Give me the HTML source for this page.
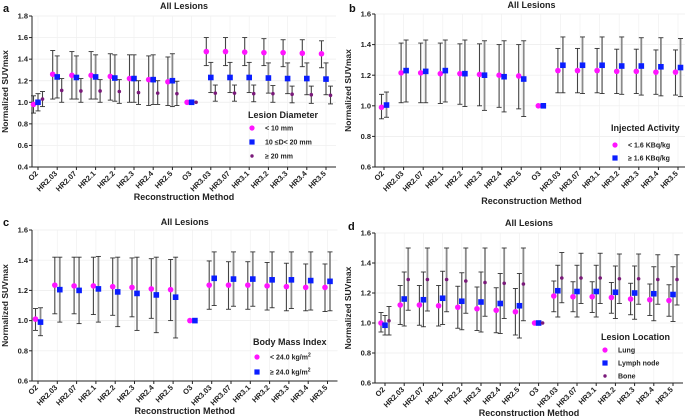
<!DOCTYPE html>
<html><head><meta charset="utf-8"><style>
html,body{margin:0;padding:0;background:#fff}
svg{display:block;font-family:"Liberation Sans",Arial,sans-serif}
</style></head><body>
<svg id="c" width="685" height="419" viewBox="0 0 685 419" xmlns="http://www.w3.org/2000/svg"></svg>
<script>
const categories=["O2","HR2.03","HR2.07","HR2.1","HR2.2","HR2.3","HR2.4","HR2.5","O3","HR3.03","HR3.07","HR3.1","HR3.2","HR3.3","HR3.4","HR3.5"];
// Panel a
const aPinkMean=[0.98,1.26,1.25,1.25,1.24,1.22,1.21,1.19,1.00,1.47,1.47,1.465,1.46,1.46,1.455,1.45];
const aPinkHigh=[1.06,1.48,1.47,1.47,1.45,1.44,1.43,1.42,1.00,1.60,1.60,1.60,1.59,1.58,1.58,1.57];
const aPinkLow=[0.90,1.03,1.03,1.03,1.02,1.00,0.97,0.97,1.00,1.34,1.34,1.34,1.34,1.33,1.33,1.32];
const aBlueMean=[1.00,1.235,1.23,1.235,1.225,1.22,1.21,1.20,1.00,1.23,1.23,1.23,1.225,1.22,1.22,1.215];
const aBlueHigh=[1.08,1.43,1.43,1.44,1.44,1.44,1.44,1.45,1.00,1.37,1.37,1.37,1.365,1.365,1.365,1.365];
const aBlueLow=[0.92,1.04,1.03,1.03,1.01,1.00,0.98,0.96,1.00,1.09,1.09,1.09,1.085,1.08,1.07,1.07];
const aPurpMean=[1.03,1.11,1.105,1.105,1.10,1.09,1.085,1.08,1.00,1.085,1.085,1.08,1.08,1.075,1.07,1.065];
const aPurpHigh=[1.10,1.22,1.22,1.21,1.21,1.20,1.20,1.195,1.00,1.16,1.16,1.16,1.155,1.15,1.15,1.15];
const aPurpLow=[0.96,1.00,1.00,1.00,0.99,0.98,0.98,0.97,1.00,1.01,1.01,1.005,1.00,0.995,0.99,0.985];
const aTicks=[0.4,0.6,0.8,1.0,1.2,1.4,1.6,1.8];
// Panel b
const bPinkMean=[0.99,1.215,1.215,1.21,1.21,1.205,1.20,1.195,1.00,1.23,1.23,1.23,1.225,1.225,1.22,1.22];
const bPinkHigh=[1.075,1.41,1.41,1.41,1.405,1.405,1.40,1.40,1.00,1.375,1.375,1.375,1.37,1.37,1.365,1.365];
const bPinkLow=[0.915,1.02,1.02,1.015,1.01,1.00,0.99,0.98,1.00,1.085,1.085,1.085,1.08,1.08,1.075,1.07];
const bBlueMean=[1.005,1.23,1.225,1.23,1.21,1.20,1.19,1.175,1.00,1.265,1.265,1.265,1.26,1.26,1.255,1.25];
const bBlueHigh=[1.09,1.43,1.43,1.43,1.43,1.425,1.425,1.425,1.00,1.45,1.45,1.45,1.45,1.445,1.445,1.44];
const bBlueLow=[0.925,1.025,1.02,1.025,0.995,0.97,0.96,0.93,1.00,1.085,1.08,1.08,1.075,1.07,1.065,1.06];
const bTicks=[0.6,0.8,1.0,1.2,1.4,1.6];
// Panel c
const cPinkMean=[1.01,1.235,1.23,1.23,1.225,1.22,1.21,1.205,1.00,1.235,1.235,1.235,1.23,1.225,1.22,1.22];
const cPinkHigh=[1.08,1.42,1.42,1.42,1.415,1.415,1.41,1.405,1.00,1.395,1.39,1.39,1.385,1.38,1.375,1.375];
const cPinkLow=[0.935,1.045,1.045,1.04,1.035,1.025,1.015,1.00,1.00,1.075,1.075,1.075,1.07,1.065,1.065,1.06];
const cBlueMean=[0.99,1.205,1.20,1.21,1.19,1.18,1.17,1.155,1.00,1.28,1.275,1.275,1.27,1.27,1.265,1.26];
const cBlueHigh=[1.085,1.42,1.42,1.425,1.42,1.42,1.42,1.42,1.00,1.455,1.455,1.455,1.455,1.455,1.455,1.455];
const cBlueLow=[0.90,0.99,0.98,0.99,0.96,0.935,0.92,0.885,1.00,1.10,1.095,1.095,1.085,1.08,1.07,1.065];
const cTicks=[0.6,0.8,1.0,1.2,1.4,1.6];
// Panel d
const dPinkMean=[1.00,1.12,1.12,1.115,1.105,1.095,1.085,1.075,1.00,1.18,1.175,1.175,1.17,1.16,1.155,1.15];
const dPinkHigh=[1.07,1.25,1.25,1.25,1.245,1.24,1.235,1.23,1.00,1.28,1.275,1.275,1.27,1.265,1.26,1.255];
const dPinkLow=[0.94,0.99,0.985,0.98,0.965,0.95,0.935,0.92,1.00,1.075,1.075,1.07,1.065,1.055,1.05,1.045];
const dBlueMean=[0.985,1.16,1.155,1.165,1.145,1.14,1.13,1.115,1.00,1.215,1.21,1.21,1.205,1.20,1.195,1.19];
const dBlueHigh=[1.05,1.34,1.34,1.345,1.335,1.34,1.33,1.33,1.00,1.385,1.385,1.385,1.38,1.38,1.375,1.375];
const dBlueLow=[0.92,0.98,0.975,0.99,0.955,0.94,0.93,0.90,1.00,1.04,1.04,1.04,1.03,1.025,1.015,1.01];
const dPurpMean=[1.015,1.29,1.29,1.29,1.28,1.27,1.265,1.26,1.00,1.30,1.30,1.30,1.295,1.295,1.29,1.29];
const dPurpHigh=[1.11,1.50,1.50,1.50,1.50,1.50,1.50,1.50,1.00,1.47,1.465,1.465,1.46,1.46,1.455,1.455];
const dPurpLow=[0.92,1.085,1.08,1.075,1.065,1.045,1.03,1.015,1.00,1.135,1.13,1.13,1.13,1.125,1.125,1.12];
const dTicks=[0.6,0.8,1.0,1.2,1.4,1.6];

const svg=document.getElementById('c');
const NS='http://www.w3.org/2000/svg';
function el(tag,attrs,parent){const e=document.createElementNS(NS,tag);for(const k in attrs)e.setAttribute(k,attrs[k]);(parent||svg).appendChild(e);return e;}
function txt(s,attrs,parent){const e=el('text',attrs,parent);e.textContent=s;return e;}

function panel(p){
  const g=el('g',{});
  
  
  const ymin=p.ticks[0],ymax=p.ticks[p.ticks.length-1];
  const y=v=>p.bottom-(v-ymin)/(ymax-ymin)*(p.bottom-p.top);
  const x=i=>p.x0+i*p.dx;
  const right=x(categories.length-1)+10;
  p.ticks.forEach(t=>{const l=el('line',{x1:p.left,x2:right,y1:y(t),y2:y(t),stroke:'#ececec','stroke-width':0.7},g);
    });
  categories.forEach((c,i)=>{const l=el('line',{x1:x(i),x2:x(i),y1:p.top,y2:p.bottom,stroke:'#f0f0f0','stroke-width':0.7},g);
    });
  const ya=el('line',{x1:p.left,x2:p.left,y1:p.top,y2:p.bottom,stroke:'#222','stroke-width':1},g);
  
  const xa=el('line',{x1:p.left,x2:right,y1:p.bottom,y2:p.bottom,stroke:'#222','stroke-width':1},g);
  
  p.ticks.forEach(t=>{
    el('line',{x1:p.left-3,x2:p.left,y1:y(t),y2:y(t),stroke:'#222'},g);
    const tl=txt(t.toFixed(1),{x:p.left-4,y:y(t)+2.6,'font-size':7.5,'font-weight':'bold','text-anchor':'end',fill:'#222'},g);
    
  });
  categories.forEach((c,i)=>{
    el('line',{x1:x(i),x2:x(i),y1:p.bottom,y2:p.bottom+3,stroke:'#222'},g);
    const tl=txt(c,{x:0,y:0,'font-size':7.5,'font-weight':'bold','text-anchor':'end',fill:'#222',transform:`translate(${x(i)+0.5},${p.bottom+7}) rotate(-45)`},g);
    
  });
  p.series.forEach((s,si)=>{
    const sg=el('g',{},g);
    
    
    s.mean.forEach((m,i)=>{
      const cx=x(i)+s.off;
      const hi=y(s.high[i]),lo=y(s.low[i]);
      if(s.high[i]!==s.low[i]){
        const eb=el('line',{x1:cx,x2:cx,y1:hi,y2:lo,stroke:s.ec,'stroke-width':s.ew},sg);
        
        el('line',{x1:cx-2.5,x2:cx+2.5,y1:hi,y2:hi,stroke:'#333','stroke-width':0.9},sg);
        el('line',{x1:cx-2.5,x2:cx+2.5,y1:lo,y2:lo,stroke:'#333','stroke-width':0.9},sg);
      }
      let mk;
      if(s.shape==='circle')mk=el('circle',{cx:cx,cy:y(m),r:2.8,fill:'#ff14ff'},sg);
      else if(s.shape==='square')mk=el('rect',{x:cx-2.8,y:y(m)-2.8,width:5.6,height:5.6,fill:'#0a1eff'},sg);
      else mk=el('circle',{cx:cx,cy:y(m),r:1.8,fill:'#7a1a7a'},sg);
      
      
    });
  });
  const lt=txt(p.letter,{x:p.lx,y:p.ly,'font-size':11,'font-weight':'bold',fill:'#111'},g);
  
  const ti=txt('All Lesions',{x:(p.left+right)/2,y:p.titleY,'font-size':9,'font-weight':'bold','text-anchor':'middle',fill:'#222'},g);
  
  const yt=txt('Normalized SUVmax',{x:0,y:0,'font-size':8.5,'font-weight':'bold','text-anchor':'middle',fill:'#222',transform:`translate(${p.left-24},${(p.top+p.bottom)/2}) rotate(-90)`},g);
  
  const xt=txt('Reconstruction Method',{x:(p.left+right)/2,y:p.xtY,'font-size':9,'font-weight':'bold','text-anchor':'middle',fill:'#222'},g);
  
  const lg=el('g',{},g);
  
  const lt2=txt(p.legTitle,{x:p.legX-4,y:p.legY,'font-size':9,'font-weight':'bold',fill:'#222'},lg);
  
  p.series.forEach((s,si)=>{
    const yy=p.legY+p.legStart+si*p.legStep;
    if(s.shape==='circle')el('circle',{cx:p.legX,cy:yy,r:2.6,fill:'#ff14ff'},lg);
    else if(s.shape==='square')el('rect',{x:p.legX-2.6,y:yy-2.6,width:5.2,height:5.2,fill:'#0a1eff'},lg);
    else el('circle',{cx:p.legX,cy:yy,r:1.7,fill:'#7a1a7a'},lg);
    const e=el('text',{x:p.legX+13,y:yy+2.5,'font-size':7,'font-weight':'bold',fill:'#222'},lg);
    e.innerHTML=s.label;
    
  });
}
const pinkEc='#444',blueEc='#8a8a8a';
panel({letter:'a',lx:3,ly:12,left:32,top:16,bottom:167,x0:38,dx:19.2,ticks:aTicks,titleY:9,xtY:200,
  legTitle:'Lesion Diameter',legX:252,legY:118,legStart:10,legStep:14,
  series:[
   {name:'lt10mm',label:'&lt; 10 mm',shape:'circle',off:-4.5,mean:aPinkMean,high:aPinkHigh,low:aPinkLow,ec:pinkEc,ew:1.1},
   {name:'10to20mm',label:'10 ≤D&lt; 20 mm',shape:'square',off:0,mean:aBlueMean,high:aBlueHigh,low:aBlueLow,ec:blueEc,ew:1.8},
   {name:'ge20mm',label:'≥ 20 mm',shape:'star',off:4.5,mean:aPurpMean,high:aPurpHigh,low:aPurpLow,ec:pinkEc,ew:1.1}]});
panel({letter:'b',lx:349,ly:12,left:375,top:14,bottom:167,x0:384,dx:19.6,ticks:bTicks,titleY:8,xtY:204,
  legTitle:'Injected Activity',legX:615,legY:131,legStart:14,legStep:13,
  series:[
   {name:'lt1.6',label:'&lt; 1.6 KBq/kg',shape:'circle',off:-2.5,mean:bPinkMean,high:bPinkHigh,low:bPinkLow,ec:pinkEc,ew:1.1},
   {name:'ge1.6',label:'≥ 1.6 KBq/kg',shape:'square',off:2.5,mean:bBlueMean,high:bBlueHigh,low:bBlueLow,ec:blueEc,ew:1.8}]});
panel({letter:'c',lx:3,ly:226,left:32,top:230,bottom:381,x0:38,dx:19.3,ticks:cTicks,titleY:225,xtY:414,
  legTitle:'Body Mass Index',legX:257,legY:345,legStart:12,legStep:15,
  series:[
   {name:'bmi-lt24',label:'&lt; 24.0 kg/m<tspan font-size="5" dy="-3">2</tspan>',shape:'circle',off:-2.5,mean:cPinkMean,high:cPinkHigh,low:cPinkLow,ec:pinkEc,ew:1.1},
   {name:'bmi-ge24',label:'≥ 24.0 kg/m<tspan font-size="5" dy="-3">2</tspan>',shape:'square',off:2.5,mean:cBlueMean,high:cBlueHigh,low:cBlueLow,ec:blueEc,ew:1.8}]});
panel({letter:'d',lx:348,ly:230,left:375,top:233,bottom:383,x0:385,dx:19.2,ticks:dTicks,titleY:226,xtY:416,
  legTitle:'Lesion Location',legX:605,legY:340,legStart:10,legStep:13,
  series:[
   {name:'lung',label:'Lung',shape:'circle',off:-4,mean:dPinkMean,high:dPinkHigh,low:dPinkLow,ec:pinkEc,ew:1.1},
   {name:'lymph-node',label:'Lymph node',shape:'square',off:0,mean:dBlueMean,high:dBlueHigh,low:dBlueLow,ec:pinkEc,ew:1.1},
   {name:'bone',label:'Bone',shape:'star',off:4,mean:dPurpMean,high:dPurpHigh,low:dPurpLow,ec:blueEc,ew:1.8}]});
</script>
</body></html>
